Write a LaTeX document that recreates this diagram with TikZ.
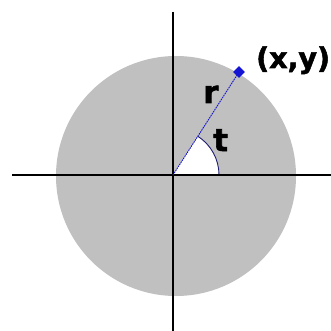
\documentclass[tikz,border=0pt]{standalone}
\usepackage{fontspec}
\newfontfamily\lblfont[BoldFeatures={FakeBold=1.8}]{DejaVu Sans}
\usetikzlibrary{shapes.geometric}
\definecolor{discgray}{RGB}{192,192,192}
\definecolor{ptblue}{RGB}{20,20,210}
\definecolor{arcblue}{RGB}{30,30,110}
\tikzset{
  axis/.style={line width=1.4pt, black},
  radial/.style={line width=0.9pt, ptblue, dash pattern=on 1.6pt off 0.8pt},
  lbl/.style={font=\lblfont\bfseries\fontsize{31}{31}\selectfont, inner sep=0pt, anchor=base west, text=black},
  pt/.style={diamond, fill=ptblue, inner sep=0pt, minimum width=12pt, minimum height=12pt}
}
\begin{document}
\begin{tikzpicture}[x=1pt,y=-1pt]
  \useasboundingbox (0,0) rectangle (331,331);
  \fill[white] (0,0) rectangle (331,331);
  \clip (0,0) rectangle (331,331);
  % disc
  \fill[discgray] (176,176) circle[radius=120];
  \coordinate (O) at (173,175);
  \coordinate (Pc) at (239,72);
  % white angle sector
  \fill[white] (O) -- ++(46,0) arc[start angle=0, end angle=-57.3, radius=46] -- cycle;
  \draw[line width=0.9pt, arcblue] (O) ++(46,0) arc[start angle=0, end angle=-57.3, radius=46];
  % axes
  \coordinate (xl) at (12,175);
  \coordinate (xr) at (331,175);
  \coordinate (yt) at (173,12);
  \coordinate (yb) at (173,331);
  \draw[axis] (xl) -- (xr);
  \draw[axis] (yt) -- (yb);
  % radius and point
  \draw[radial] (O) -- (Pc);
  \node[pt] (P) at (Pc) {};
  % labels
  \node[lbl, font=\lblfont\bfseries\fontsize{28.5}{28.5}\selectfont] (xy) at (256,68) {(x,y)};
  \node[lbl] (r) at (203,103) {r};
  \node[lbl] (t) at (213,151) {t};
\end{tikzpicture}
\end{document}
